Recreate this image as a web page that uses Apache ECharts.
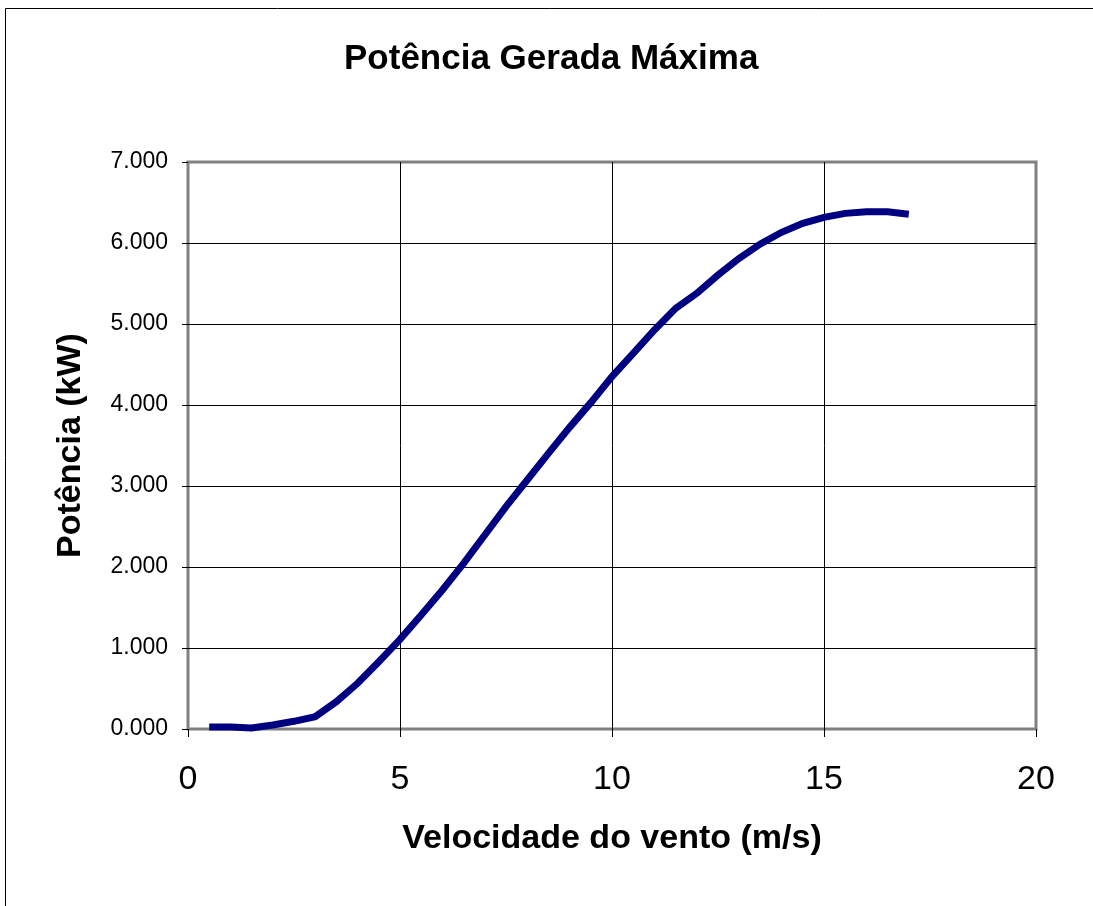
<!DOCTYPE html>
<html>
<head>
<meta charset="utf-8">
<script src="https://cdn.jsdelivr.net/npm/echarts@6/dist/echarts.min.js"></script>
<style>
  html, body { margin: 0; padding: 0; background: #fff; }
  #chart { width: 1093px; height: 906px; }
</style>
</head>
<body>
<div id="chart"></div>
<script>
// velocidade do vento (m/s)
const velocidades = [0.5, 1, 1.5, 2, 2.5, 3, 3.5, 4, 4.5, 5, 5.5, 6, 6.5, 7, 7.5, 8, 8.5, 9, 9.5,
  10, 10.5, 11, 11.5, 12, 12.5, 13, 13.5, 14, 14.5, 15, 15.5, 16, 16.5, 17]
// potência gerada máxima (kW)
const potencias = [0.025, 0.025, 0.012, 0.05, 0.095, 0.152, 0.337, 0.564, 0.831, 1.107, 1.407, 1.716,
  2.045, 2.395, 2.745, 3.074, 3.403, 3.724, 4.029, 4.350, 4.638, 4.926, 5.193, 5.379, 5.605,
  5.811, 5.988, 6.132, 6.243, 6.317, 6.366, 6.387, 6.387, 6.354]

const chart = echarts.init(document.getElementById('chart'))
const fonte = 'Liberation Sans, Arial, sans-serif'

const option = {
  animation: false,
  backgroundColor: '#fff',
  title: {
    text: 'Potência Gerada Máxima',
    left: 339,
    top: 37,
    textStyle: { fontFamily: fonte, fontSize: 35, fontWeight: 'bold', color: '#000' }
  },
  graphic: [{
    type: 'rect',
    shape: { x: 5.5, y: 8.5, width: 1200, height: 1200 },
    style: { fill: 'none', stroke: '#000', lineWidth: 1 },
    silent: true
  }],
  grid: {
    left: 188, right: 57, top: 162, bottom: 177,
    show: true,
    borderColor: '#808080',
    borderWidth: 3,
    backgroundColor: '#fff'
  },
  xAxis: {
    type: 'value',
    min: 0, max: 20, interval: 5,
    name: 'Velocidade do vento (m/s)',
    nameLocation: 'middle',
    nameGap: 93,
    nameTextStyle: { fontFamily: fonte, fontSize: 34, fontWeight: 'bold', color: '#000' },
    axisLine: { show: false },
    axisTick: { show: true, length: 8, lineStyle: { color: '#000', width: 1 } },
    axisLabel: { fontFamily: fonte, fontSize: 34, color: '#000', margin: 34 },
    splitLine: { show: true, showMinLine: false, showMaxLine: false, lineStyle: { color: '#000', width: 1 } }
  },
  yAxis: {
    type: 'value',
    min: 0, max: 7, interval: 1,
    name: 'Potência (kW)',
    nameLocation: 'middle',
    nameGap: 100,
    nameTextStyle: { fontFamily: fonte, fontSize: 34, fontWeight: 'bold', color: '#000' },
    axisLine: { show: false },
    axisTick: { show: true, length: 6, lineStyle: { color: '#000', width: 1 } },
    axisLabel: {
      fontFamily: fonte, fontSize: 23, color: '#000', margin: 20,
      formatter: v => v.toFixed(3)
    },
    splitLine: { show: true, showMinLine: false, showMaxLine: false, lineStyle: { color: '#000', width: 1 } }
  },
  series: [{
    type: 'line',
    data: velocidades.map((v, i) => [v, potencias[i]]),
    showSymbol: false,
    lineStyle: { color: '#000080', width: 7, cap: 'butt', join: 'miter' },
    itemStyle: { color: '#000080' },
    z: 5
  }]
}

chart.setOption(option)
</script>
</body>
</html>
